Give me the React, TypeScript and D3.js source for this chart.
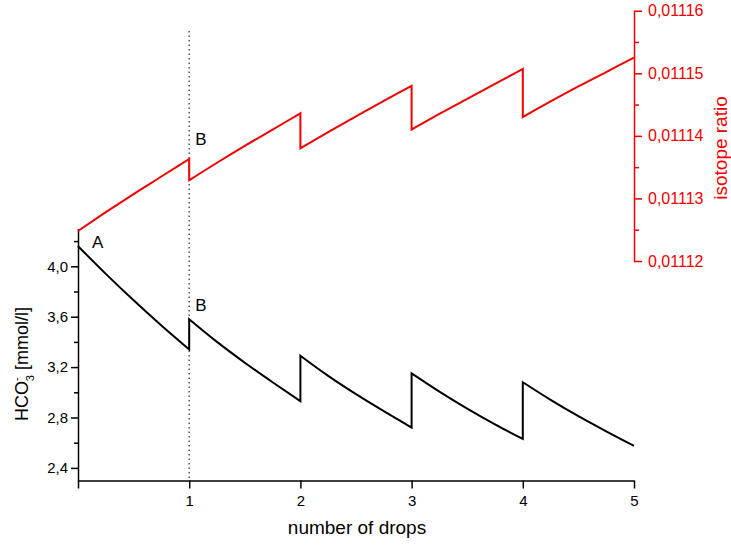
import React, { useEffect, useRef } from "react";
import * as d3 from "d3";

const dropX = [
  0, 0.25, 0.5, 0.75, 1,
  1, 1.25, 1.5, 1.75, 2,
  2, 2.25, 2.5, 2.75, 3,
  3, 3.25, 3.5, 3.75, 4,
  4, 4.25, 4.5, 4.75, 5,
];
const hco3 = [
  4.16, 3.94, 3.73, 3.53, 3.34,
  3.58, 3.40, 3.235, 3.08, 2.93,
  3.29, 3.13, 2.985, 2.85, 2.72,
  3.15, 3.005, 2.87, 2.745, 2.63,
  3.08, 2.94, 2.81, 2.69, 2.575,
];
const isotope = [
  0.0111248, 0.0111278, 0.0111307, 0.0111335, 0.0111363,
  0.0111329, 0.0111357, 0.0111384, 0.011141, 0.0111436,
  0.011138, 0.0111406, 0.0111431, 0.0111456, 0.011148,
  0.011141, 0.0111435, 0.0111459, 0.0111483, 0.0111507,
  0.011143, 0.0111455, 0.0111479, 0.0111502, 0.0111525,
];
const segmentStarts = [0, 5, 10, 15, 20];
const xTicks = [0, 1, 2, 3, 4, 5];
const leftMajor = [2.4, 2.8, 3.2, 3.6, 4.0];
const leftMinor = [2.6, 3.0, 3.4, 3.8, 4.2];
const rightMajor = [0.01112, 0.01113, 0.01114, 0.01115, 0.01116];
const rightMinor = [0.011125, 0.011135, 0.011145, 0.011155];

const FONT = "'Liberation Sans', Arial, sans-serif";
const RED = "#f00000";

export default function App() {
  const ref = useRef<SVGSVGElement>(null);

  useEffect(() => {
    const svg = d3.select(ref.current);
    svg.selectAll("*").remove();

    const x = d3.scaleLinear().domain([0, 5]).range([78, 634]);
    const yL = d3.scaleLinear().domain([2.3, 4.3]).range([480.5, 228.5]);
    const yR = d3.scaleLinear().domain([0.01112, 0.01116]).range([261, 10.7]);

    const comma = (s: string) => s.replace(".", ",");

    // dotted vertical line at drop 1
    svg.append("line")
      .attr("x1", x(1)).attr("x2", x(1))
      .attr("y1", 31).attr("y2", 480)
      .attr("stroke", "#555").attr("stroke-width", 1.5)
      .attr("stroke-dasharray", "1.5,3");

    // bottom axis
    const gx = svg.append("g").attr("transform", `translate(0,${yL(2.3)})`)
      .call(d3.axisBottom(x).tickValues(xTicks).tickSize(8).tickSizeOuter(0)
        .tickFormat((d: any) => (d === 0 ? "" : String(d))));
    gx.select(".domain").attr("stroke-width", 1.5);
    gx.selectAll(".tick line").attr("stroke-width", 1.5);
    gx.selectAll("text").attr("font-size", 15).attr("font-family", FONT)
      .attr("fill", "#000").attr("dy", "0.95em");

    // left axis
    const gl = svg.append("g").attr("transform", `translate(${x(0)},0)`)
      .call(d3.axisLeft(yL).tickValues(leftMajor).tickSize(7).tickSizeOuter(0)
        .tickFormat((d: any) => comma(d3.format(".1f")(d))));
    gl.select(".domain").attr("stroke-width", 1.5);
    gl.selectAll(".tick line").attr("stroke-width", 1.5);
    gl.selectAll("text").attr("font-size", 15).attr("font-family", FONT)
      .attr("fill", "#000").attr("x", -10);
    const glm = svg.append("g").attr("transform", `translate(${x(0)},0)`)
      .call(d3.axisLeft(yL).tickValues(leftMinor).tickSize(4).tickFormat(() => ""));
    glm.select(".domain").remove();
    glm.selectAll(".tick line").attr("stroke-width", 1.5);

    // right axis
    const gr = svg.append("g").attr("transform", `translate(${x(5)},0)`)
      .call(d3.axisRight(yR).tickValues(rightMajor).tickSize(8).tickSizeOuter(0)
        .tickFormat((d: any) => comma(d3.format(".5f")(d))));
    gr.select(".domain").attr("stroke", RED).attr("stroke-width", 1.5);
    gr.selectAll(".tick line").attr("stroke", RED).attr("stroke-width", 1.5);
    gr.selectAll("text").attr("font-size", 16).attr("font-family", FONT)
      .attr("fill", RED).attr("x", 14);
    const grm = svg.append("g").attr("transform", `translate(${x(5)},0)`)
      .call(d3.axisRight(yR).tickValues(rightMinor).tickSize(5).tickFormat(() => ""));
    grm.select(".domain").remove();
    grm.selectAll(".tick line").attr("stroke", RED).attr("stroke-width", 1.5);

    // lines: smooth segments joined by vertical jumps
    const buildPath = (vals: number[], y: d3.ScaleLinear<number, number>) => {
      const gen = d3.line<number>().x((i) => x(dropX[i])).y((i) => y(vals[i]))
        .curve(d3.curveMonotoneX);
      return segmentStarts
        .map((s, k) => {
          const d = gen(d3.range(s, s + 5)) || "";
          return k === 0 ? d : "L" + d.slice(1);
        })
        .join("");
    };
    svg.append("path").attr("d", buildPath(isotope, yR)).attr("fill", "none")
      .attr("stroke", RED).attr("stroke-width", 2).attr("stroke-linejoin", "miter");
    svg.append("path").attr("d", buildPath(hco3, yL)).attr("fill", "none")
      .attr("stroke", "#000").attr("stroke-width", 2).attr("stroke-linejoin", "miter");

    // annotations
    const ann = svg.append("g").attr("font-family", FONT).attr("font-size", 17).attr("fill", "#000");
    ann.append("text").attr("x", x(0) + 14).attr("y", 248).text("A");
    ann.append("text").attr("x", x(1) + 6).attr("y", 145).text("B");
    ann.append("text").attr("x", x(1) + 6).attr("y", 311).text("B");

    // axis titles
    svg.append("text").attr("x", 357).attr("y", 534).attr("text-anchor", "middle")
      .attr("font-family", FONT).attr("font-size", 19).attr("fill", "#000")
      .text("number of drops");

    svg.append("text").attr("transform", "translate(727,148) rotate(-90)")
      .attr("text-anchor", "middle").attr("font-family", FONT).attr("font-size", 19)
      .attr("fill", RED).text("isotope ratio");

    const t = svg.append("text").attr("transform", "translate(28,364) rotate(-90)")
      .attr("text-anchor", "middle").attr("font-family", FONT).attr("font-size", 18)
      .attr("fill", "#000");
    t.append("tspan").text("HCO");
    t.append("tspan").attr("font-size", 11).attr("dy", -8).text("-");
    t.append("tspan").attr("font-size", 11).attr("dx", -4).attr("dy", 14).text("3");
    t.append("tspan").attr("dy", -6).text(" [mmol/l]");
  }, []);

  return (
    <svg
      ref={ref}
      width={731}
      height={545}
      style={{ position: "absolute", left: 0, top: 0, background: "#fff" }}
    />
  );
}
